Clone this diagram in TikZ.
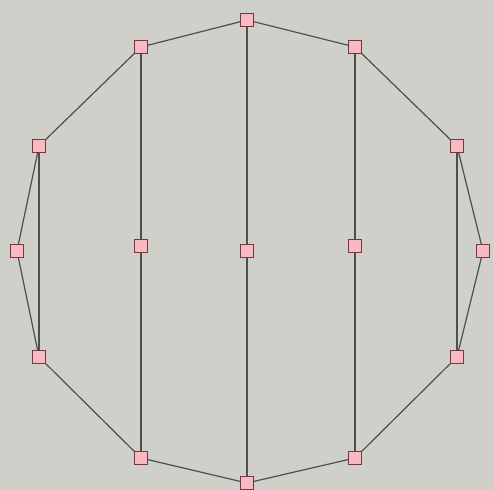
\documentclass[tikz,border=0pt]{standalone}
\definecolor{bgGray}{RGB}{208,208,203}
\definecolor{nodePink}{RGB}{248,186,192}
\definecolor{nodeEdge}{RGB}{112,56,66}
\definecolor{linkGray}{RGB}{78,78,74}
\usepackage{tikz}
\usetikzlibrary{positioning}

\begin{document}
\begin{tikzpicture}[x=1pt, y=-1pt,
          vtx/.style={draw=nodeEdge, fill=nodePink, line width=1.2pt,
            minimum size=12.5pt, inner sep=0pt},
          link/.style={draw=linkGray, line width=1.2pt}
        ]
          \fill[bgGray] (0,0) rectangle (493,490);
          \useasboundingbox (0,0) rectangle (493,490);
          % outer ring
          \node[vtx] (v1) at (247,20) {};
          \node[vtx] (v2) at (355,47) {};
          \node[vtx] (v3) at (457,146) {};
          \node[vtx] (v4) at (483,251) {};
          \node[vtx] (v5) at (457,357) {};
          \node[vtx] (v6) at (355,458) {};
          \node[vtx] (v7) at (247,483) {};
          \node[vtx] (v8) at (141,458) {};
          \node[vtx] (v9) at (39,357) {};
          \node[vtx] (v10) at (17,251) {};
          \node[vtx] (v11) at (39,146) {};
          \node[vtx] (v12) at (141,47) {};
          % middle row
          \node[vtx] (m1) at (141,246) {};
          \node[vtx] (m2) at (247,251) {};
          \node[vtx] (m3) at (355,246) {};
          \draw[link] (v1) -- (v2) -- (v3) -- (v4) -- (v5) -- (v6) -- (v7)
            -- (v8) -- (v9) -- (v10) -- (v11) -- (v12) -- (v1);
          \draw[link] (v11) -- (v9);
          \draw[link] (v12) -- (m1) -- (v8);
          \draw[link] (v1) -- (m2) -- (v7);
          \draw[link] (v2) -- (m3) -- (v6);
          \draw[link] (v3) -- (v5);
        \end{tikzpicture}
\end{document}
